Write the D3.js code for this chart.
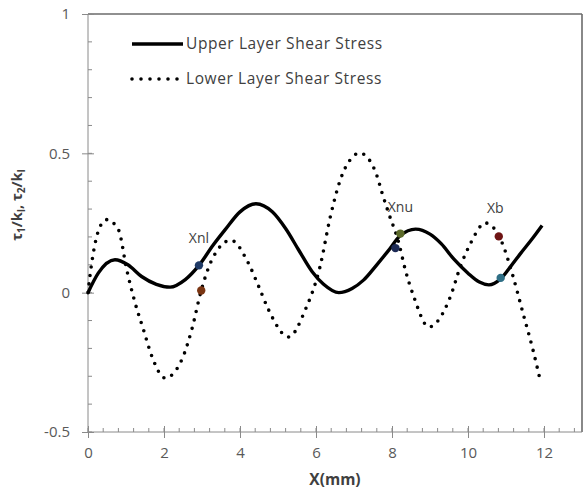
<!DOCTYPE html>
<html>
<head>
<meta charset="utf-8">
<script src="https://cdn.jsdelivr.net/npm/d3@7/dist/d3.min.js"></script>
<style>
  html, body { margin: 0; padding: 0; background: #fff; }
  svg { display: block; font-family: "Open Sans", "Liberation Sans", sans-serif; }
</style>
</head>
<body>
<svg id="chart" width="584" height="497"></svg>
<script>
// Upper layer shear stress, tau1/kI along X (mm)
const upperX = [0, 0.27, 0.71, 1.05, 1.41, 1.8, 2.16, 2.56, 2.92, 3.29, 3.61, 4.0, 4.42, 4.85, 5.2, 5.54, 5.9, 6.2, 6.6, 6.95, 7.25, 7.6, 7.9, 8.22, 8.62, 9.0, 9.3, 9.63, 10.0, 10.3, 10.55, 10.86, 11.1, 11.38, 11.7, 11.95];
const upperY = [0, 0.07, 0.118, 0.1, 0.058, 0.03, 0.02, 0.047, 0.098, 0.17, 0.226, 0.29, 0.319, 0.29, 0.23, 0.154, 0.075, 0.03, 0.0, 0.015, 0.045, 0.1, 0.15, 0.205, 0.228, 0.21, 0.175, 0.12, 0.07, 0.038, 0.028, 0.05, 0.09, 0.14, 0.195, 0.241];

// Lower layer shear stress, tau2/kI along X (mm)
const lowerX = [0, 0.05, 0.32, 0.49, 0.8, 1.02, 1.24, 1.46, 1.68, 2.03, 2.47, 2.73, 2.98, 3.26, 3.76, 4.22, 4.49, 4.75, 5.28, 5.72, 6.1, 6.38, 6.64, 6.9, 7.15, 7.43, 7.61, 7.74, 7.91, 8.18, 8.35, 8.57, 8.97, 9.54, 9.8, 10.07, 10.46, 10.9, 11.16, 11.47, 11.7, 11.92];
const lowerY = [0, 0.058, 0.238, 0.262, 0.226, 0.082, -0.037, -0.133, -0.228, -0.306, -0.24, -0.133, 0.008, 0.118, 0.188, 0.106, 0.023, -0.061, -0.159, -0.061, 0.09, 0.274, 0.405, 0.477, 0.501, 0.471, 0.417, 0.357, 0.286, 0.178, 0.082, -0.013, -0.123, -0.013, 0.094, 0.178, 0.25, 0.178, 0.07, -0.085, -0.2, -0.326];

// Marked transition points
const markX = [2.92, 2.98, 8.09, 8.22, 10.81, 10.86];
const markY = [0.098, 0.008, 0.16, 0.212, 0.202, 0.053];
const markColors = ["#1f3a66", "#7a3512", "#1c2a55", "#5c6a2a", "#6e1414", "#2f6f86"];

// Point labels
const labelText = ["Xnl", "Xnu", "Xb"];
const labelX = [2.92, 8.22, 10.72];
const labelY = [0.18, 0.29, 0.285];

const seriesNames = ["Upper Layer Shear Stress", "Lower Layer Shear Stress"];
const xTicks = [0, 2, 4, 6, 8, 10, 12];
const yTicks = [-0.5, 0, 0.5, 1];
const yTickText = ["-0.5", "0", "0.5", "1"];

const svg = d3.select("#chart");
const plotLeft = 88, plotRight = 582, plotTop = 14, plotBottom = 432;

const x = d3.scaleLinear().domain([0, 13]).range([plotLeft, plotRight]);
const y = d3.scaleLinear().domain([-0.5, 1]).range([plotBottom, plotTop]);

const axisColor = "#8a8a8a";
const labelColor = "#595959";

// Frame: top and right edges
svg.append("line").attr("x1", plotLeft).attr("x2", plotRight).attr("y1", plotTop).attr("y2", plotTop)
  .attr("stroke", "#6b6b6b").attr("stroke-width", 1.6);
svg.append("line").attr("x1", plotRight).attr("x2", plotRight).attr("y1", plotTop).attr("y2", plotBottom)
  .attr("stroke", "#6b6b6b").attr("stroke-width", 1.6);

// Minor ticks (inside the plot)
const xMinor = d3.range(0, 13.001, 0.4).map(v => +v.toFixed(2));
svg.append("g").selectAll("line").data(xMinor).join("line")
  .attr("x1", d => x(d)).attr("x2", d => x(d))
  .attr("y1", plotBottom).attr("y2", plotBottom - 4)
  .attr("stroke", axisColor).attr("stroke-width", 1);
const yMinor = d3.range(-0.5, 1.001, 0.1).map(v => +v.toFixed(2));
svg.append("g").selectAll("line").data(yMinor).join("line")
  .attr("x1", plotLeft).attr("x2", plotLeft + 4)
  .attr("y1", d => y(d)).attr("y2", d => y(d))
  .attr("stroke", axisColor).attr("stroke-width", 1);

// Major axes: ticks cross the axis line
const xAxis = d3.axisBottom(x).tickValues(xTicks).tickFormat(d3.format("d")).tickSize(6).tickPadding(9);
const gx = svg.append("g").attr("transform", `translate(0,${plotBottom})`).call(xAxis);
gx.select(".domain").remove();
gx.append("line").attr("x1", plotLeft).attr("x2", plotRight).attr("stroke", axisColor);
gx.selectAll(".tick line").attr("y1", -6).attr("stroke", axisColor);
gx.selectAll(".tick text").attr("fill", labelColor).style("font-size", "15px")
  .style("font-family", "'Open Sans', sans-serif");

const yAxis = d3.axisLeft(y).tickValues(yTicks)
  .tickFormat((d, i) => yTickText[i]).tickSize(6).tickPadding(12);
const gy = svg.append("g").attr("transform", `translate(${plotLeft},0)`).call(yAxis);
gy.select(".domain").remove();
gy.append("line").attr("y1", plotTop).attr("y2", plotBottom).attr("stroke", axisColor);
gy.selectAll(".tick line").attr("x1", 6).attr("stroke", axisColor);
gy.selectAll(".tick text").attr("fill", labelColor).style("font-size", "15px")
  .style("font-family", "'Open Sans', sans-serif");

// Axis titles
svg.append("text").attr("x", (plotLeft + plotRight) / 2).attr("y", 485)
  .attr("text-anchor", "middle").attr("fill", "#404040")
  .style("font-size", "15.5px").style("font-weight", "bold").text("X(mm)");

const yt = svg.append("text")
  .attr("transform", "translate(22,205) rotate(-90)")
  .attr("text-anchor", "middle").attr("fill", "#404040")
  .style("font-size", "14.5px").style("font-weight", "bold");
yt.append("tspan").text("τ");
yt.append("tspan").attr("baseline-shift", "-25%").style("font-size", "10px").text("1");
yt.append("tspan").text("/k");
yt.append("tspan").attr("baseline-shift", "-25%").style("font-size", "10px").text("I");
yt.append("tspan").text(", τ");
yt.append("tspan").attr("baseline-shift", "-25%").style("font-size", "10px").text("2");
yt.append("tspan").text("/k");
yt.append("tspan").attr("baseline-shift", "-25%").style("font-size", "10px").text("I");

// Curves
const line = d3.line().x(d => x(d[0])).y(d => y(d[1])).curve(d3.curveMonotoneX);
const upper = upperX.map((v, i) => [v, upperY[i]]);
const lower = lowerX.map((v, i) => [v, lowerY[i]]);

svg.append("path").datum(lower).attr("d", line)
  .attr("fill", "none").attr("stroke", "#000").attr("stroke-width", 3.6)
  .attr("stroke-linecap", "round").attr("stroke-dasharray", "0 8.6");

svg.append("path").datum(upper).attr("d", line)
  .attr("fill", "none").attr("stroke", "#000").attr("stroke-width", 3.4);

// Markers
svg.append("g").selectAll("circle").data(markX).join("circle")
  .attr("cx", d => x(d)).attr("cy", (d, i) => y(markY[i])).attr("r", 4.2)
  .attr("fill", (d, i) => markColors[i]);

// Marker labels
svg.append("g").selectAll("text").data(labelText).join("text")
  .attr("x", (d, i) => x(labelX[i])).attr("y", (d, i) => y(labelY[i]))
  .attr("text-anchor", "middle").attr("fill", "#404040")
  .style("font-size", "14px").text(d => d);

// Legend
const legendY = [44, 79];
const lg = svg.append("g");
lg.append("line").attr("x1", 132).attr("x2", 183).attr("y1", legendY[0]).attr("y2", legendY[0])
  .attr("stroke", "#000").attr("stroke-width", 3.4);
lg.append("line").attr("x1", 132).attr("x2", 178).attr("y1", legendY[1]).attr("y2", legendY[1])
  .attr("stroke", "#000").attr("stroke-width", 3.6).attr("stroke-linecap", "round")
  .attr("stroke-dasharray", "0 9");
lg.selectAll("text").data(seriesNames).join("text")
  .attr("x", 186).attr("y", (d, i) => legendY[i] + 5)
  .attr("fill", "#404040").style("font-size", "15.5px").style("letter-spacing", "0.6px")
  .text(d => d);
</script>
</body>
</html>
